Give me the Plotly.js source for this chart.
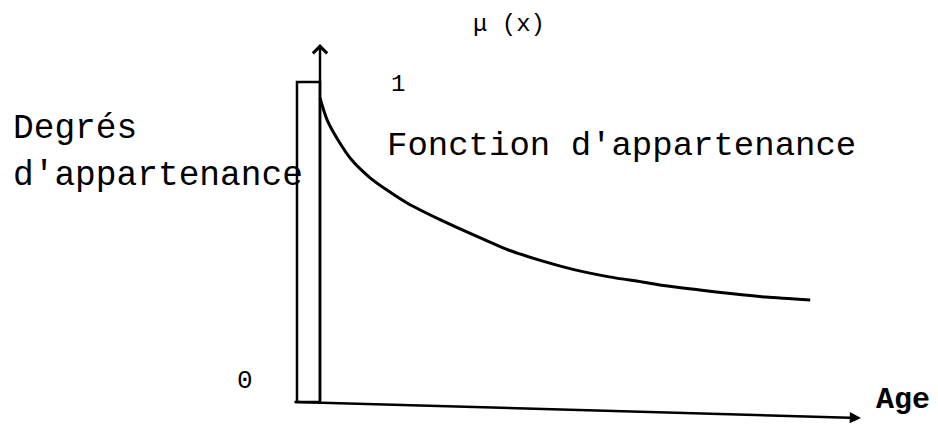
<!DOCTYPE html>
<html>
<head>
<meta charset="utf-8">
<script src="https://cdn.plot.ly/plotly-3.0.1.min.js"></script>
<style>
  html, body { margin: 0; padding: 0; background: #ffffff; }
  #chart { width: 938px; height: 425px; }
</style>
</head>
<body>
<div id="chart"></div>
<script>
// ---- Data ----
// Membership curve: age vs degree of membership mu(x)
const ages = [0, 1.2, 3.0, 5.3, 8.2, 11.1, 14.5, 20.1, 25.6, 31.4, 37.0, 42.5, 48.2, 53.7, 57.6, 63.3, 68.8, 74.3, 81.7];
const mu   = [0.95, 0.881, 0.819, 0.756, 0.703, 0.663, 0.622, 0.569, 0.522, 0.475, 0.441, 0.413, 0.391, 0.375, 0.363, 0.35, 0.338, 0.328, 0.319];

// Crisp (rectangular) membership bar
const crispCenter = [-1.92];
const crispValue  = [1];
const crispWidth  = [3.83];

// Texts
const yTitle = "\u03bc (x)";
const xTitle = "Age";
const yLabelLines = ["Degrés", "d'appartenance"];
const curveLabel = "Fonction d'appartenance";
const tickOne = "1";
const tickZero = "0";

// ---- Layout helpers (pixel -> paper) ----
const W = 938, H = 425;
const px = x => x / W;
const py = y => 1 - y / H;

const mono = "Liberation Mono, Courier New, monospace";

const traces = [
  {
    type: "bar",
    x: crispCenter,
    y: crispValue,
    width: crispWidth,
    marker: { color: "#ffffff", line: { color: "#000000", width: 2.5 } },
    hoverinfo: "skip"
  },
  {
    type: "scatter",
    mode: "lines",
    x: ages,
    y: mu,
    line: { color: "#000000", width: 3, shape: "spline", smoothing: 0.8 },
    hoverinfo: "skip"
  }
];

const layout = {
  width: W,
  height: H,
  margin: { l: 0, r: 0, t: 0, b: 0, pad: 0 },
  paper_bgcolor: "#ffffff",
  plot_bgcolor: "#ffffff",
  showlegend: false,
  xaxis: { range: [-320 / 6, (W - 320) / 6], visible: false, fixedrange: true },
  yaxis: { range: [(402 - H) / 320, 402 / 320], visible: false, fixedrange: true },
  annotations: [
    // y axis with open arrow head
    {
      xref: "paper", yref: "paper", x: px(320), y: py(44),
      ax: 0, ay: 358, axref: "pixel", ayref: "pixel",
      text: "", showarrow: true, arrowhead: 4, arrowsize: 1.1,
      arrowwidth: 2.5, arrowcolor: "#000000", standoff: 0, startstandoff: 0
    },
    // x axis with filled arrow head (slightly slanted as in the scan)
    {
      xref: "paper", yref: "paper", x: px(861), y: py(418),
      ax: -568, ay: -16, axref: "pixel", ayref: "pixel",
      text: "", showarrow: true, arrowhead: 2, arrowsize: 0.9,
      arrowwidth: 2.5, arrowcolor: "#000000", standoff: 0, startstandoff: 0
    },
    { xref: "paper", yref: "paper", x: px(509), y: py(24), xanchor: "center", yanchor: "middle",
      text: yTitle, showarrow: false, font: { family: mono, size: 24, color: "#000" } },
    { xref: "paper", yref: "paper", x: px(398), y: py(84), xanchor: "center", yanchor: "middle",
      text: tickOne, showarrow: false, font: { family: mono, size: 24, color: "#000" } },
    { xref: "paper", yref: "paper", x: px(245), y: py(381), xanchor: "center", yanchor: "middle",
      text: tickZero, showarrow: false, font: { family: mono, size: 26, color: "#000" } },
    { xref: "paper", yref: "paper", x: px(11), y: py(129), xanchor: "left", yanchor: "middle",
      text: yLabelLines[0], showarrow: false, font: { family: mono, size: 34.5, color: "#000" } },
    { xref: "paper", yref: "paper", x: px(11), y: py(176), xanchor: "left", yanchor: "middle",
      text: yLabelLines[1], showarrow: false, font: { family: mono, size: 34.5, color: "#000" } },
    { xref: "paper", yref: "paper", x: px(385), y: py(146), xanchor: "left", yanchor: "middle",
      text: curveLabel, showarrow: false, font: { family: mono, size: 34, color: "#000" } },
    { xref: "paper", yref: "paper", x: px(874), y: py(400), xanchor: "left", yanchor: "middle",
      text: "<b>" + xTitle + "</b>", showarrow: false, font: { family: mono, size: 30, color: "#000" } }
  ]
};

Plotly.newPlot("chart", traces, layout, { staticPlot: true, displayModeBar: false });
</script>
</body>
</html>
